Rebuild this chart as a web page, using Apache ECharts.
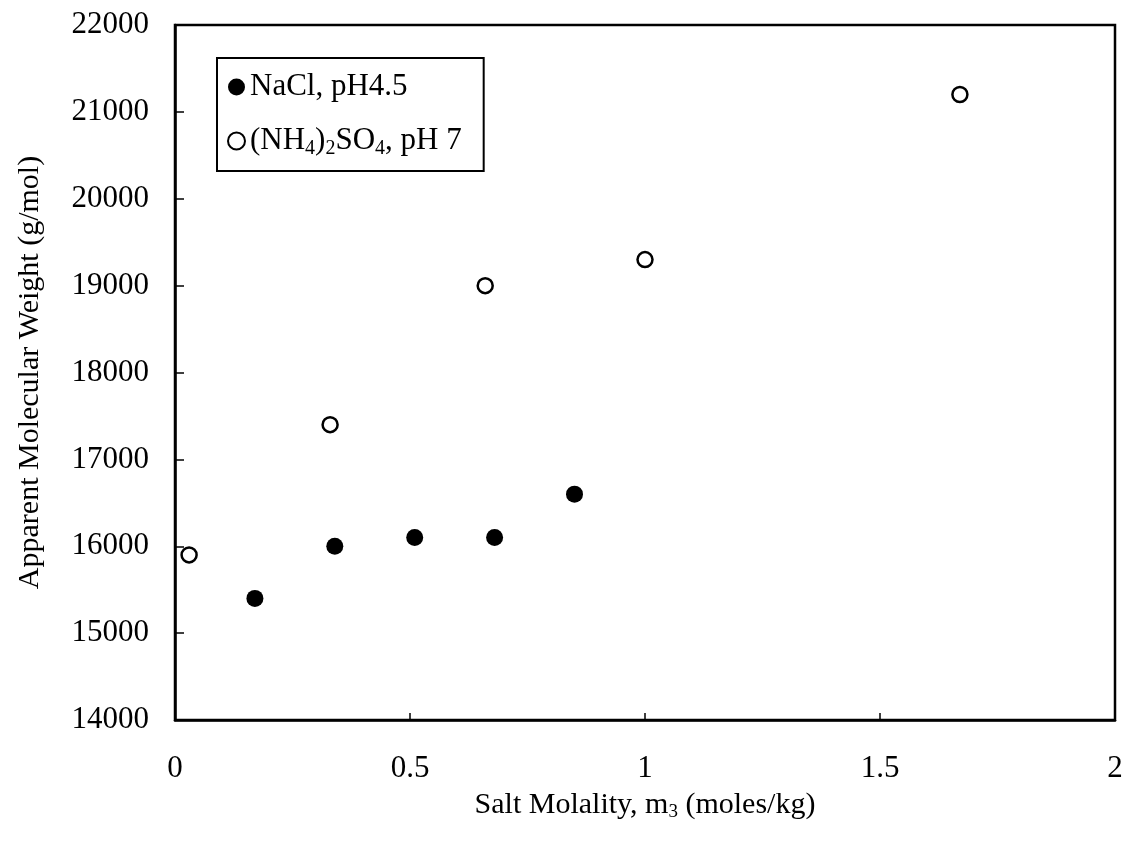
<!DOCTYPE html>
<html lang="en">
<head>
   <meta charset="utf-8">
   <title>Apparent Molecular Weight vs Salt Molality</title>
   <script src="https://cdn.jsdelivr.net/npm/echarts@6/dist/echarts.min.js"></script>
   <style>
      html, body { margin: 0; padding: 0; background: #fff; }
      #chart { width: 1131px; height: 847px; }
   </style>
</head>
<body>
   <div id="chart"></div>
   <script>
      // NaCl, pH 4.5 (filled)
      var naclX = [0.17, 0.34, 0.51, 0.68, 0.85];
      var naclY = [15400, 16000, 16100, 16100, 16600];
      // (NH4)2SO4, pH 7 (open)
      var amsX = [0.03, 0.33, 0.66, 1.0, 1.67];
      var amsY = [15900, 17400, 19000, 19300, 21200];

      var font = 'Liberation Serif';

      function pairs(xs, ys) {
         return xs.map(function(x, i) { return [x, ys[i]]; });
      }

      var myChart = echarts.init(document.getElementById('chart'), null, { renderer: 'canvas' });

      var option = {
         animation: false,
         grid: {
            left: 175, top: 25, width: 940, height: 695,
            show: true, borderColor: '#000', borderWidth: 2.5
         },
         legend: {
            orient: 'vertical',
            left: 217, top: 58,
            borderColor: '#000', borderWidth: 2,
            padding: [12, 22, 12, 10],
            itemGap: 19,
            itemWidth: 17, itemHeight: 17,
            itemTextGap: 6,
            textStyle: {
               fontFamily: font, fontSize: 31, color: '#000', lineHeight: 34,
               rich: {
                  s: { fontFamily: font, fontSize: 20, color: '#000', lineHeight: 20, padding: [16, 0, 0, 0] }
               }
            },
            formatter: function(name) {
               if (name === 'ams') return '(NH{s|4}){s|2}SO{s|4}, pH 7';
               return 'NaCl, pH4.5';
            },
            data: ['nacl', 'ams']
         },
         xAxis: {
            type: 'value',
            min: 0, max: 2, interval: 0.5,
            name: 'Salt Molality, m{s|3} (moles/kg)',
            nameLocation: 'middle',
            nameGap: 68,
            nameTextStyle: {
               fontFamily: font, fontSize: 30, color: '#000',
               rich: { s: { fontSize: 19, fontFamily: font, color: '#000', lineHeight: 19, padding: [14, 0, 0, 0] } }
            },
            axisLine: { lineStyle: { color: '#000', width: 2.5 } },
            axisTick: { inside: true, length: 7, lineStyle: { color: '#000', width: 1.5 } },
            axisLabel: { fontFamily: font, fontSize: 31, color: '#000', margin: 33 },
            splitLine: { show: false }
         },
         yAxis: {
            type: 'value',
            min: 14000, max: 22000, interval: 1000,
            name: 'Apparent Molecular Weight (g/mol)',
            nameLocation: 'middle',
            nameGap: 130,
            nameTextStyle: { fontFamily: font, fontSize: 30, color: '#000' },
            axisLine: { lineStyle: { color: '#000', width: 2.5 } },
            axisTick: { inside: true, length: 9, lineStyle: { color: '#000', width: 1.5 } },
            axisLabel: {
               fontFamily: font, fontSize: 31, color: '#000', margin: 26,
               formatter: function(v) { return String(v); }
            },
            splitLine: { show: false }
         },
         series: [
            {
               name: 'nacl',
               type: 'scatter',
               symbol: 'circle',
               symbolSize: 17,
               itemStyle: { color: '#000', opacity: 1 },
               data: pairs(naclX, naclY)
            },
            {
               name: 'ams',
               type: 'scatter',
               symbol: 'circle',
               symbolSize: 15,
               itemStyle: { color: '#fff', borderColor: '#000', borderWidth: 2.5, opacity: 1 },
               data: pairs(amsX, amsY)
            }
         ]
      };

      myChart.setOption(option);
   </script>
</body>
</html>
